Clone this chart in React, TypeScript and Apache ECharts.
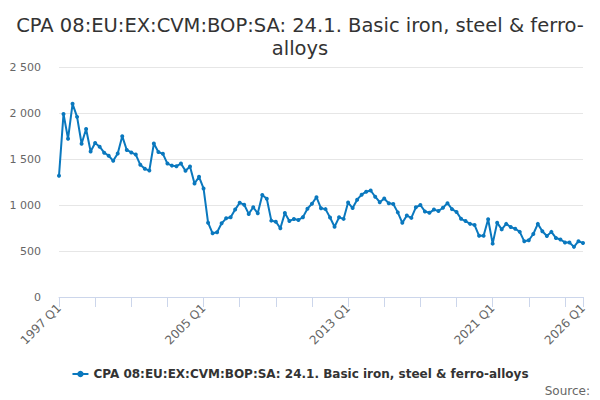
import React, { useEffect, useRef } from "react";
import * as echarts from "echarts";

const TITLE = "CPA 08:EU:EX:CVM:BOP:SA: 24.1. Basic iron, steel & ferro-\nalloys";
const SERIES_NAME = "CPA 08:EU:EX:CVM:BOP:SA: 24.1. Basic iron, steel & ferro-alloys";

const startYear = 1997;
const endYear = 2026;
const categories: string[] = [];
for (let y = startYear; y <= endYear; y++) {
  for (let q = 1; q <= 4; q++) {
    if (y === endYear && q > 1) break;
    categories.push(`${y} Q${q}`);
  }
}

const values1997to2006 = [
  1318, 1990, 1720, 2100, 1958, 1666, 1826, 1582, 1673, 1634,
  1569, 1535, 1480, 1560, 1748, 1598, 1571, 1548, 1437, 1393,
  1375, 1668, 1576, 1556, 1450, 1428, 1422, 1450, 1372, 1418,
  1233, 1306, 1180, 808, 692, 704, 801, 855, 866,
];
const values2006to2016 = [
  950, 1025, 1002, 903, 975, 910, 1108, 1068, 830, 818,
  748, 912, 827, 847, 837, 868, 960, 1013, 1085, 964,
  955, 864, 764, 866, 849, 1027, 967, 1058, 1112, 1145,
  1158, 1090, 1030, 1070, 1018, 1010, 920, 806,
];
const values2016to2026 = [
  885, 860, 975, 1000, 930, 915, 950, 935, 970, 1020,
  955, 925, 850, 825, 795, 782, 665, 665, 845, 580,
  808, 735, 795, 760, 742, 708, 605, 617, 685, 795,
  715, 663, 708, 642, 625, 593, 592, 545, 607, 586,
];
const values = [...values1997to2006, ...values2006to2016, ...values2016to2026];

const yTicks = [0, 500, 1000, 1500, 2000, 2500];

const fmt = (v: number) => String(v).replace(/\B(?=(\d{3})+(?!\d))/g, " ");

export default function App() {
  const ref = useRef<HTMLDivElement>(null);
  useEffect(() => {
    if (!ref.current) return;
    const chart = echarts.init(ref.current, undefined, { renderer: "svg" });
    const last = categories.length - 1;
    const font = "DejaVu Sans, Verdana, sans-serif";
    chart.setOption({
      animation: false,
      backgroundColor: "#ffffff",
      textStyle: { fontFamily: font },
      title: {
        text: TITLE,
        left: "center",
        top: 9,
        textStyle: {
          fontSize: 19.5,
          fontWeight: "normal",
          color: "#333333",
          lineHeight: 23,
          fontFamily: font,
        },
      },
      grid: { left: 59, right: 17, top: 67, bottom: 103, containLabel: false },
      legend: {
        top: 363,
        left: "center",
        itemWidth: 16,
        itemHeight: 8,
        itemGap: 6,
        textStyle: { fontSize: 12, fontWeight: "bold", color: "#333333", fontFamily: font },
        data: [SERIES_NAME],
      },
      graphic: [
        {
          type: "text",
          right: 10,
          top: 385,
          style: { text: "Source:", fontSize: 12, fill: "#666666", fontFamily: font },
        },
      ],
      xAxis: {
        type: "category",
        data: categories,
        boundaryGap: false,
        axisLine: { lineStyle: { color: "#ccd6eb" } },
        axisTick: {
          length: 10,
          lineStyle: { color: "#ccd6eb" },
          interval: (i: number) => i % 8 === 0 || i === last,
        },
        axisLabel: {
          rotate: 45,
          color: "#666666",
          fontSize: 12,
          fontFamily: font,
          margin: 9,
          interval: (i: number) => i % 32 === 0 || i === last,
        },
        splitLine: { show: false },
      },
      yAxis: {
        type: "value",
        min: yTicks[0],
        max: yTicks[yTicks.length - 1],
        interval: 500,
        axisLine: { show: false },
        axisTick: { show: false },
        axisLabel: {
          color: "#666666",
          fontSize: 11,
          fontFamily: font,
          margin: 18,
          formatter: (v: number) => fmt(v),
        },
        splitLine: { lineStyle: { color: "#e6e6e6" } },
      },
      series: [
        {
          name: SERIES_NAME,
          type: "line",
          data: values,
          color: "#0a78be",
          symbol: "circle",
          symbolSize: 4,
          showAllSymbol: true,
          lineStyle: { width: 2, color: "#0a78be" },
          itemStyle: { color: "#0a78be" },
        },
      ],
    });
    return () => chart.dispose();
  }, []);
  return (
    <div
      ref={ref}
      style={{ position: "fixed", left: 0, top: 0, width: 600, height: 400 }}
    />
  );
}
